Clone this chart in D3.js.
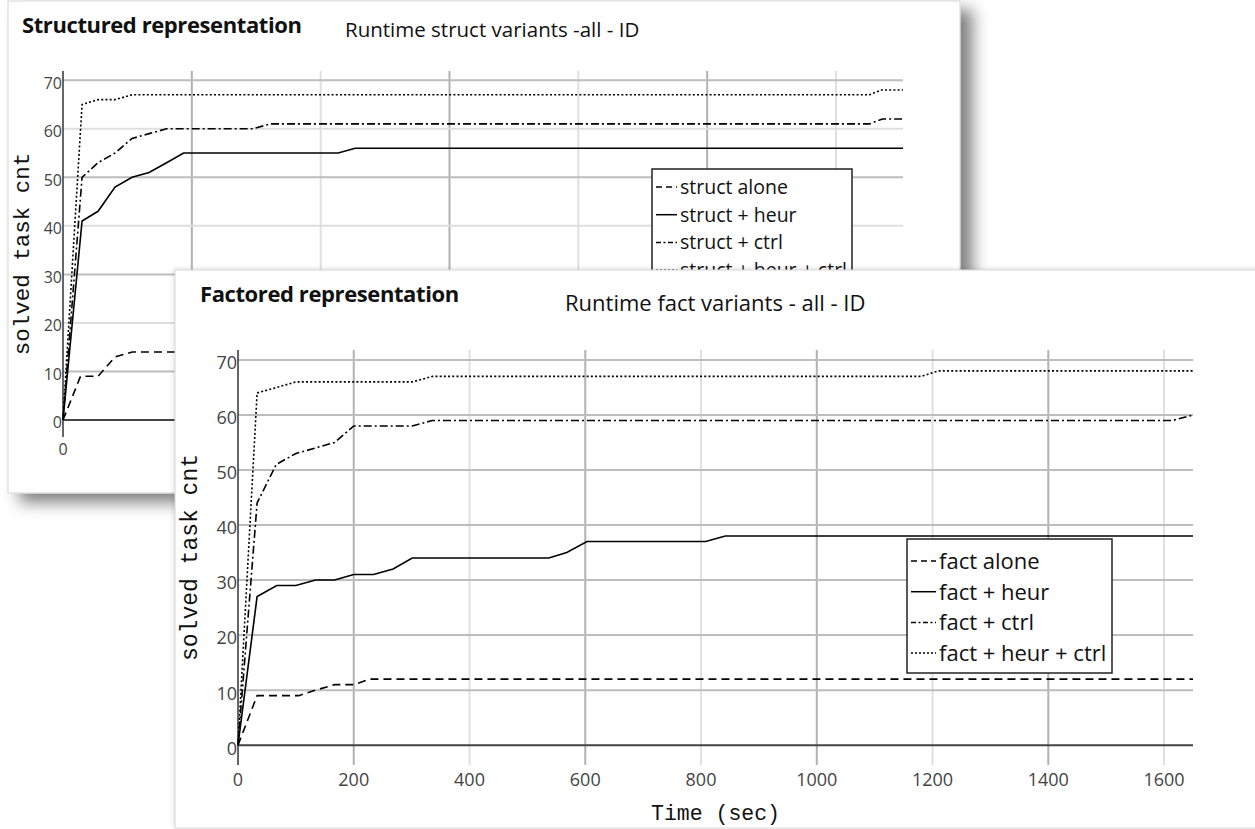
<!DOCTYPE html>
<html>
<head>
<meta charset="utf-8">
<script src="https://cdn.jsdelivr.net/npm/d3@7"></script>
<style>
  body { margin: 0; background: #fff; }
  svg { display: block; }
</style>
</head>
<body>
<script>
// solved task count over time, points are [seconds, solved]
var structNames = ["struct alone", "struct + heur", "struct + ctrl", "struct + heur + ctrl"];
var structAlone = [[0, 0], [34, 9], [68, 9], [101, 13], [134, 14], [1630, 14]];
var structHeur = [[0, 0], [37, 41], [68, 43], [101, 48], [134, 50], [167, 51], [201, 53], [234, 55], [534, 55], [567, 56], [1630, 56]];
var structCtrl = [[0, 0], [37, 50], [68, 53], [101, 55], [134, 58], [167, 59], [201, 60], [369, 60], [402, 61], [1565, 61], [1590, 62], [1630, 62]];
var structHeurCtrl = [[0, 0], [37, 65], [68, 66], [101, 66], [134, 67], [1565, 67], [1588, 68], [1630, 68]];

var factNames = ["fact alone", "fact + heur", "fact + ctrl", "fact + heur + ctrl"];
var factAlone = [[0, 0], [33, 9], [67, 9], [105, 9], [134, 10], [167, 11], [200, 11], [228, 12], [1650, 12]];
var factHeur = [[0, 0], [33, 27], [67, 29], [100, 29], [134, 30], [167, 30], [200, 31], [234, 31], [268, 32], [301, 34], [537, 34], [568, 35], [603, 37], [808, 37], [842, 38], [1650, 38]];
var factCtrl = [[0, 0], [33, 44], [66, 51], [100, 53], [134, 54], [167, 55], [200, 58], [301, 58], [336, 59], [1615, 59], [1650, 60]];
var factHeurCtrl = [[0, 0], [33, 64], [67, 65], [100, 66], [301, 66], [336, 67], [1180, 67], [1210, 68], [1650, 68]];

var yTicks = [0, 10, 20, 30, 40, 50, 60, 70];
var structXTicks = [0, 250, 500, 750, 1000, 1250, 1500];
var factXTicks = [0, 200, 400, 600, 800, 1000, 1200, 1400, 1600];

// one dash pattern per series (alone, heur, ctrl, heur+ctrl)
var dashes = ["8,5", null, "8,3,2,3", "2,2.2"];
var legendDashes = ["6,4", null, "5,2.5,2,2.5", "2,2"];

var svgWidth = 1255, svgHeight = 829;

var svg = d3.select("body").append("svg")
  .attr("width", svgWidth)
  .attr("height", svgHeight);

var defs = svg.append("defs");

var backShadow = defs.append("filter").attr("id", "backShadow")
  .attr("x", "-10%").attr("y", "-10%").attr("width", "130%").attr("height", "130%");
backShadow.append("feDropShadow")
  .attr("dx", 12).attr("dy", 9).attr("stdDeviation", 8)
  .attr("flood-color", "#000").attr("flood-opacity", 0.5);

var frontShadow = defs.append("filter").attr("id", "frontShadow")
  .attr("x", "-10%").attr("y", "-10%").attr("width", "130%").attr("height", "130%");
frontShadow.append("feDropShadow")
  .attr("dx", -1).attr("dy", -1).attr("stdDeviation", 2)
  .attr("flood-color", "#000").attr("flood-opacity", 0.12);

function drawPanel(cfg) {
  var g = svg.append("g");

  // white card
  g.append("rect")
    .attr("x", cfg.box.x).attr("y", cfg.box.y)
    .attr("width", cfg.box.w).attr("height", cfg.box.h)
    .attr("fill", "#fff")
    .attr("stroke", "#d6d6d6")
    .attr("filter", "url(#" + cfg.shadow + ")");

  g.append("text")
    .attr("x", cfg.title.x).attr("y", cfg.title.y)
    .attr("font-family", "Open Sans").attr("font-weight", "bold")
    .attr("font-size", cfg.title.size).attr("fill", "#111")
    .attr("letter-spacing", "-0.4px")
    .text(cfg.title.text);

  g.append("text")
    .attr("x", cfg.sub.x).attr("y", cfg.sub.y)
    .attr("font-family", "Open Sans")
    .attr("font-size", cfg.sub.size).attr("fill", "#111")
    .text(cfg.sub.text);

  var x = d3.scaleLinear().domain(cfg.xDomain).range([cfg.plot.left, cfg.plot.right]);
  var y = d3.scaleLinear().domain(cfg.yDomain).range([cfg.plot.bottom, cfg.plot.top]);

  // vertical grid
  g.selectAll(".vgrid")
    .data(cfg.xTicks.filter(d => d > 0))
    .enter().append("line")
    .attr("x1", d => x(d)).attr("x2", d => x(d))
    .attr("y1", cfg.plot.top).attr("y2", cfg.plot.bottom)
    .attr("stroke", (d, i) => i % 2 === 0 ? "#b2b2b2" : "#e0e0e0")
    .attr("stroke-width", 2);

  // horizontal grid
  g.selectAll(".hgrid")
    .data(yTicks.filter(d => d > 0))
    .enter().append("line")
    .attr("x1", cfg.plot.left).attr("x2", cfg.plot.right)
    .attr("y1", d => y(d)).attr("y2", d => y(d))
    .attr("stroke", (d, i) => cfg.altH && i % 2 === 1 ? "#dedede" : "#bdbdbd")
    .attr("stroke-width", 2);

  // zero line and y axis line
  g.append("line")
    .attr("x1", cfg.plot.left).attr("x2", cfg.plot.right)
    .attr("y1", y(0)).attr("y2", y(0))
    .attr("stroke", "#444").attr("stroke-width", 2);
  g.append("line")
    .attr("x1", x(0)).attr("x2", x(0))
    .attr("y1", cfg.plot.top).attr("y2", cfg.plot.bottom)
    .attr("stroke", "#333").attr("stroke-width", 1.5);

  // tick labels
  g.selectAll(".ylab")
    .data(yTicks)
    .enter().append("text")
    .attr("x", x(0) - 1).attr("y", d => y(d))
    .attr("dy", "0.52em")
    .attr("text-anchor", "end")
    .attr("font-family", "Open Sans").attr("font-size", cfg.tickSize)
    .attr("fill", "#444")
    .text(d => d);

  g.selectAll(".xlab")
    .data(cfg.xTicks)
    .enter().append("text")
    .attr("x", d => x(d)).attr("y", cfg.plot.bottom + cfg.xLabOffset)
    .attr("text-anchor", "middle")
    .attr("font-family", "Open Sans").attr("font-size", cfg.tickSize)
    .attr("fill", "#444")
    .text(d => d);

  // axis titles
  g.append("text")
    .attr("transform", `translate(${cfg.yTitle.x}, ${(cfg.plot.top + cfg.plot.bottom) / 2}) rotate(-90)`)
    .attr("text-anchor", "middle")
    .attr("font-family", "Liberation Mono").attr("font-size", cfg.yTitle.size)
    .attr("fill", "#111")
    .text("solved task cnt");

  if (cfg.xTitle) {
    g.append("text")
      .attr("x", (cfg.plot.left + cfg.plot.right) / 2).attr("y", cfg.xTitle.y)
      .attr("text-anchor", "middle")
      .attr("font-family", "Liberation Mono").attr("font-size", cfg.xTitle.size)
      .attr("fill", "#111")
      .text("Time (sec)");
  }

  // series
  var line = d3.line().x(d => x(d[0])).y(d => y(d[1]));
  g.selectAll(".series")
    .data(cfg.series)
    .enter().append("path")
    .attr("d", d => line(d))
    .attr("fill", "none")
    .attr("stroke", "#000")
    .attr("stroke-width", 1.6)
    .attr("stroke-dasharray", (d, i) => dashes[i]);

  // legend
  var lg = cfg.legend;
  g.append("rect")
    .attr("x", lg.x).attr("y", lg.y)
    .attr("width", lg.w).attr("height", lg.h)
    .attr("fill", "#fff").attr("stroke", "#222").attr("stroke-width", 1.5);

  var rows = g.selectAll(".legrow")
    .data(cfg.names)
    .enter().append("g")
    .attr("transform", (d, i) => `translate(${lg.x}, ${lg.y + lg.first + i * lg.rowH})`);

  rows.append("line")
    .attr("x1", 4).attr("x2", lg.textX - 3)
    .attr("y1", 0).attr("y2", 0)
    .attr("stroke", "#000").attr("stroke-width", 1.5)
    .attr("stroke-dasharray", (d, i) => legendDashes[i]);

  rows.append("text")
    .attr("x", lg.textX).attr("dy", "0.36em")
    .attr("font-family", "Open Sans").attr("font-size", lg.size)
    .attr("fill", "#111")
    .text(d => d);
}

// back card: structured representation
drawPanel({
  box: { x: 8, y: 1, w: 952, h: 492 },
  shadow: "backShadow",
  title: { text: "Structured representation", x: 22, y: 33, size: 22 },
  sub: { text: "Runtime struct variants -all - ID", x: 345, y: 37, size: 20.5 },
  plot: { left: 63, right: 903, top: 71, bottom: 437 },
  xDomain: [0, 1630],
  yDomain: [-3.5, 71.9],
  xTicks: structXTicks,
  altH: true,
  tickSize: 16,
  xLabOffset: 18,
  yTitle: { x: 29, size: 22.5 },
  series: [structAlone, structHeur, structCtrl, structHeurCtrl],
  names: structNames,
  legend: { x: 652, y: 169, w: 200, h: 116, first: 18, rowH: 27.7, textX: 28, size: 19.5 }
});

// front card: factored representation
drawPanel({
  box: { x: 175, y: 270, w: 1090, h: 558 },
  shadow: "frontShadow",
  title: { text: "Factored representation", x: 200, y: 302, size: 22 },
  sub: { text: "Runtime fact variants - all - ID", x: 565, y: 311, size: 22 },
  plot: { left: 238, right: 1193, top: 350, bottom: 765 },
  xDomain: [0, 1650],
  yDomain: [-3.6, 71.8],
  xTicks: factXTicks,
  altH: false,
  tickSize: 18,
  xLabOffset: 21,
  xTitle: { y: 820, size: 21.5 },
  yTitle: { x: 197, size: 23 },
  series: [factAlone, factHeur, factCtrl, factHeurCtrl],
  names: factNames,
  legend: { x: 907, y: 539, w: 205, h: 134, first: 22, rowH: 30.7, textX: 32, size: 22 }
});
</script>
</body>
</html>
